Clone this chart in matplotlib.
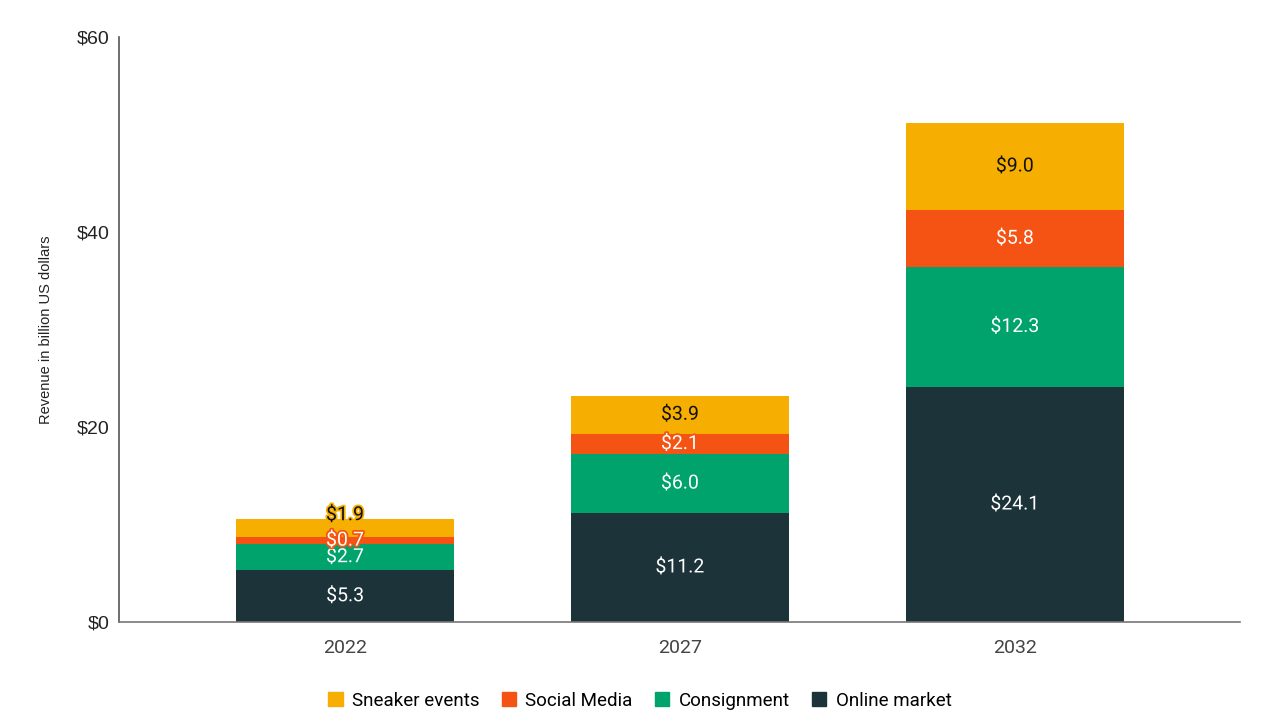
import matplotlib
matplotlib.use('Agg')
import matplotlib.pyplot as plt
import matplotlib.patheffects as pe
from matplotlib.patches import Patch
import numpy as np

# Sneaker resale revenue by channel (billion USD)
years = ['2022', '2027', '2032']
online_market = [5.3, 11.2, 24.1]
consignment = [2.7, 6.0, 12.3]
social_media = [0.7, 2.1, 5.8]
sneaker_events = [1.9, 3.9, 9.0]

series = [
    ('Online market', online_market, '#1D333A', 'white'),
    ('Consignment', consignment, '#00A36B', 'white'),
    ('Social Media', social_media, '#F55314', 'white'),
    ('Sneaker events', sneaker_events, '#F6AE00', '#111111'),
]

fig = plt.figure(figsize=(12.8, 7.2), dpi=100)
ax = fig.add_axes([0.093, 0.136, 0.876, 0.813])

x = np.arange(len(years))
bottom = np.zeros(len(years))
last_label = [None] * len(years)
for name, vals, color, tcolor in series:
    vals = np.array(vals)
    ax.bar(x, vals, width=0.65, bottom=bottom, color=color, linewidth=0)
    for i, v in enumerate(vals):
        yc = bottom[i] + v / 2
        # nudge label up when it would collide with the one below
        if last_label[i] is not None and yc - last_label[i] < 1.5:
            yc = last_label[i] + 2.6
        last_label[i] = yc
        ax.text(x[i], yc, f'${v:.1f}', ha='center', va='center',
                fontsize=14, color=tcolor, family='Roboto',
                path_effects=[pe.withStroke(linewidth=2.5, foreground=color)])
    bottom += vals

ax.set_xlim(-0.675, 2.673)
ax.set_ylim(0, 60)
ax.set_yticks([0, 20, 40, 60])
ax.set_yticklabels(['$0', '$20', '$40', '$60'], family='Liberation Sans',
                   fontsize=14, color='#222222')
ax.set_xticks(x)
ax.set_xticklabels(years, family='Roboto', fontsize=14, color='#444444')
ax.tick_params(axis='both', length=0)
ax.tick_params(axis='y', pad=7)
ax.tick_params(axis='x', pad=12)
ax.set_ylabel('Revenue in billion US dollars', family='Liberation Sans',
              fontsize=10.5, color='#222222', labelpad=17)

for s in ['top', 'right']:
    ax.spines[s].set_visible(False)
ax.spines['left'].set_color('#555555')
ax.spines['bottom'].set_color('#777777')
ax.spines['left'].set_linewidth(1.2)
ax.spines['bottom'].set_linewidth(1.2)

handles = [Patch(color=c, label=n) for n, _, c, _ in series[::-1]]
fig.legend(handles=handles, loc='center', bbox_to_anchor=(0.5, 0.027), ncol=4,
           frameon=False, prop={'family': 'Roboto', 'size': 13.5},
           handlelength=0.75, handleheight=0.75, handletextpad=0.5, columnspacing=1.2)

fig.savefig('out.png', dpi=100)
